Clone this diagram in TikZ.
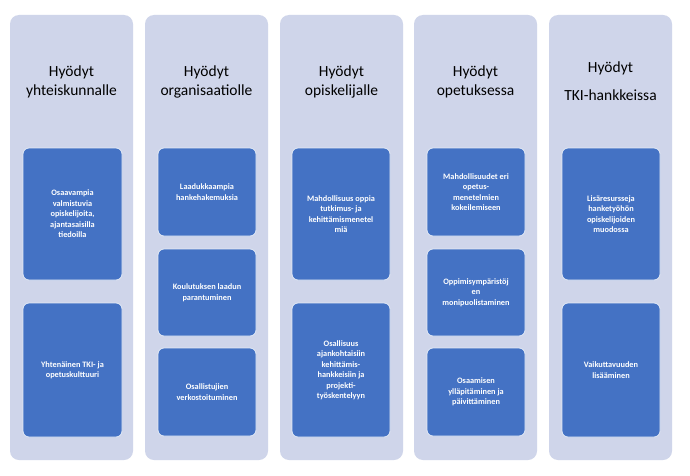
\documentclass[tikz,border=0pt]{standalone}
\usepackage{fontspec}
\setmainfont{Carlito}
\begin{document}
\begin{tikzpicture}[x=1pt,y=-1pt,
 col/.style={fill=lav,draw=none,rounded corners=9pt},
 hd/.style={font=\fontsize{15.5}{19}\selectfont,align=center,text=black},
 bx/.style={fill=blu,draw=white!85!blu,line width=0.8pt,rounded corners=6pt,text=white,font=\bfseries\fontsize{8.3}{10.5}\selectfont,align=center}]
\definecolor{lav}{HTML}{CFD5EA}
\definecolor{blu}{HTML}{4472C4}
\useasboundingbox (0,0) rectangle (690,476);
\fill[white] (0,0) rectangle (690,476);
\foreach \x/\n in {10/c1,145/c2,280/c3,414/c4,549/c5}{
 \path[col] (\x,15) rectangle ++(123,445);}
\node[hd] (h1) at (71.5,82) {Hyödyt\\yhteiskunnalle};
\node[hd] (h2) at (206.5,82) {Hyödyt\\organisaatiolle};
\node[hd] (h3) at (341.5,82) {Hyödyt\\opiskelijalle};
\node[hd] (h4) at (475.5,82) {Hyödyt\\opetuksessa};
\node[hd,font=\fontsize{15.5}{28}\selectfont] (h5) at (610.5,81) {Hyödyt\\TKI-hankkeissa};
\newcommand\bb[6]{\draw[bx] (#1,#2) rectangle (#3,#4);
 \node[text=white,font=\bfseries\fontsize{8.3}{10.5}\selectfont,align=center] (#5) at ({(#1+#3)/2},{(#2+#4)/2}) {#6};}
\bb{23}{148}{122}{280}{a1}{Osaavampia\\valmistuvia\\opiskelijoita,\\ajantasaisilla\\tiedoilla}
\bb{23}{303}{122}{437}{a2}{Yhtenäinen TKI- ja\\opetuskulttuuri}
\bb{158}{148}{256}{236}{b1}{Laadukkaampia\\hankehakemuksia}
\bb{158}{249}{256}{336}{b2}{Koulutuksen laadun\\parantuminen}
\bb{158}{348}{256}{436}{b3}{Osallistujien\\verkostoituminen}
\bb{292}{148}{390}{280}{c1}{Mahdollisuus oppia\\tutkimus- ja\\kehittämismenetel\\miä}
\bb{292}{303}{390}{437}{c2}{Osallisuus\\ajankohtaisiin\\kehittämis-\\hankkeisiin ja\\projekti-\\työskentelyyn}
\bb{427}{148}{525}{236}{d1}{Mahdollisuudet eri\\opetus-\\menetelmien\\kokeilemiseen}
\bb{427}{249}{525}{336}{d2}{Oppimisympäristöj\\en\\monipuolistaminen}
\bb{427}{348}{525}{436}{d3}{Osaamisen\\ylläpitäminen ja\\päivittäminen}
\bb{562}{148}{660}{280}{e1}{Lisäresursseja\\hanketyöhön\\opiskelijoiden\\muodossa}
\bb{562}{303}{660}{437}{e2}{Vaikuttavuuden\\lisääminen}
\end{tikzpicture}
\end{document}
